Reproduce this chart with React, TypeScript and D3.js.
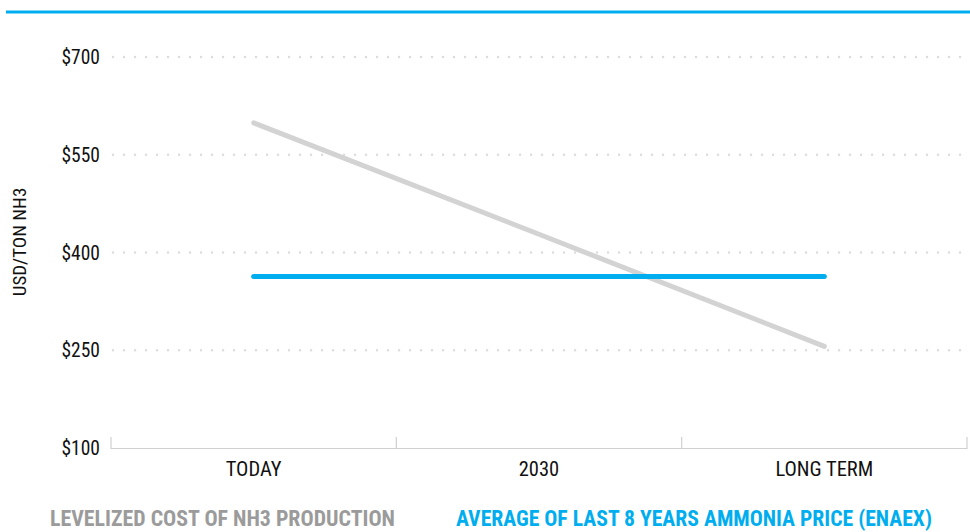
import React from "react";
import * as d3 from "d3";

const categories = ["TODAY", "2030", "LONG TERM"];
const levelizedCost = [599, 428, 256];
const avgAmmoniaPrice = [363, 363, 363];
const yTicks = [100, 250, 400, 550, 700];
const legendLabels = ["LEVELIZED COST OF NH3 PRODUCTION", "AVERAGE OF LAST 8 YEARS AMMONIA PRICE (ENAEX)"];
const yAxisTitle = "USD/TON NH3";

const W = 970;
const H = 532;
const FONT = "'Liberation Sans Narrow', 'Roboto Condensed', 'Arial Narrow', Roboto, sans-serif";
const GRAY = "#d3d3d3";
const BLUE = "#00aeef";

export default function App() {
  const x = d3.scaleBand<string>().domain(categories).range([111, 967]);
  const y = d3.scaleLinear().domain([100, 700]).range([448, 57]);
  const line = d3
    .line<number>()
    .x((_, i) => (x(categories[i]) as number) + x.bandwidth() / 2)
    .y((d) => y(d));
  const boundaries = [...categories.map((c) => x(c) as number), 967];

  return (
    <svg width={W} height={H} style={{ position: "absolute", left: 0, top: 0 }}>
      <rect width={W} height={H} fill="#fff" />
      <line x1={6} x2={970} y1={12} y2={12} stroke={BLUE} strokeWidth={3} />
      {yTicks.filter((t) => t > 100).map((t) => (
        <line key={t} x1={113} x2={968} y1={y(t)} y2={y(t)} stroke="#dcdcdc" strokeWidth={2.4}
          strokeDasharray="0.1,10.9" strokeLinecap="round" />
      ))}
      <line x1={111} x2={967} y1={448.5} y2={448.5} stroke="#d0d0d0" strokeWidth={1.2} />
      {boundaries.map((b, i) => (
        <line key={i} x1={b} x2={b} y1={437} y2={449} stroke="#d0d0d0" strokeWidth={1.2} />
      ))}
      {yTicks.map((t) => (
        <text key={t} x={100} y={y(t)} dy="0.36em" textAnchor="end" fontFamily={FONT} fontSize={19.5} fill="#111">
          ${t}
        </text>
      ))}
      <text transform="translate(26,242) rotate(-90)" textAnchor="middle" fontFamily={FONT} fontSize={19} fill="#111">
        {yAxisTitle}
      </text>
      {categories.map((c) => (
        <text key={c} x={(x(c) as number) + x.bandwidth() / 2} y={476} textAnchor="middle" fontFamily={FONT} fontSize={20.5} fill="#111">
          {c}
        </text>
      ))}
      <path d={line(levelizedCost) || ""} fill="none" stroke={GRAY} strokeWidth={5} strokeLinecap="round" />
      <path d={line(avgAmmoniaPrice) || ""} fill="none" stroke={BLUE} strokeWidth={5} strokeLinecap="round" />
      <text x={50} y={526} fontFamily={FONT} fontWeight="bold" fontSize={22} fill="#9b9b9b"
        textLength={345} lengthAdjust="spacingAndGlyphs">
        {legendLabels[0]}
      </text>
      <text x={456} y={526} fontFamily={FONT} fontWeight="bold" fontSize={22} fill={BLUE}
        textLength={476} lengthAdjust="spacingAndGlyphs">
        {legendLabels[1]}
      </text>
    </svg>
  );
}
